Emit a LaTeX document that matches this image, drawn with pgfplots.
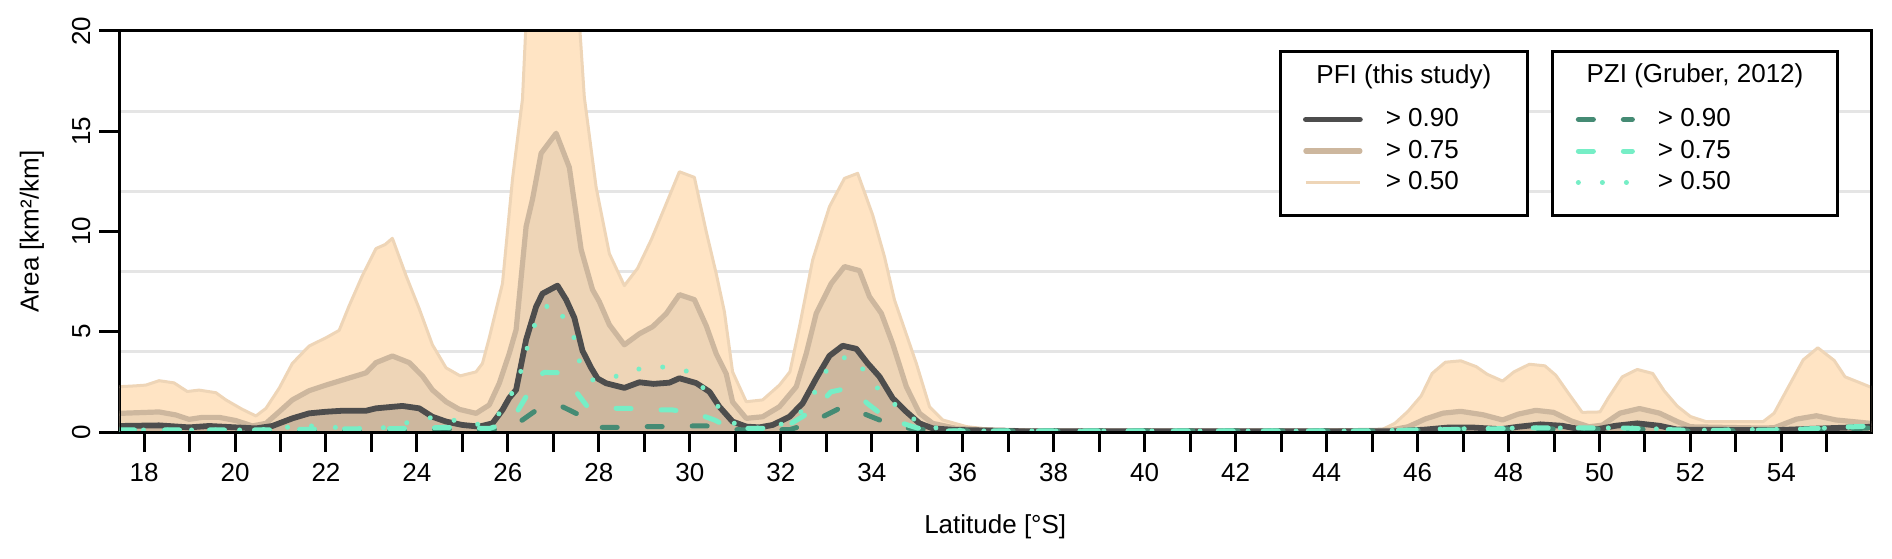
\documentclass[border=0pt]{standalone}
\usepackage{fontspec}
\setmainfont{Liberation Sans}
\usepackage{pgfplots}
\usepackage{pgfplotstable}
\pgfplotsset{compat=1.18}
\definecolor{bisqueA}{HTML}{FFE4C4}
\definecolor{bisqueB}{HTML}{EED5B7}
\definecolor{bisqueC}{HTML}{CDB79E}
\definecolor{grayL}{HTML}{4D4D4D}
\definecolor{aquaB}{HTML}{76EEC6}
\definecolor{aquaD}{HTML}{458B74}
\definecolor{gridgray}{HTML}{E5E5E5}

\pgfplotstableread{
x y
17.46 2.26
17.8 2.3
18.04 2.34
18.33 2.56
18.66 2.45
18.95 2.02
19.21 2.09
19.58 1.96
19.8 1.6
20.16 1.13
20.46 0.8
20.68 1.18
20.97 2.18
21.26 3.42
21.63 4.29
22.0 4.7
22.29 5.07
22.51 6.3
22.8 7.8
23.1 9.15
23.3 9.35
23.46 9.66
23.68 8.3
23.76 7.8
24.05 6.15
24.34 4.35
24.64 3.2
24.95 2.8
25.3 3.0
25.44 3.42
25.59 4.7
25.88 7.4
26.1 12.6
26.32 16.6
26.4 20.5
26.6 23
27.0 24
27.45 23
27.57 20.5
27.68 16.7
27.94 12.2
28.23 8.9
28.56 7.3
28.85 8.16
29.15 9.58
29.44 11.16
29.77 12.98
30.1 12.7
30.36 10.0
30.58 7.9
30.76 6.0
30.94 3.0
31.24 1.51
31.6 1.6
31.97 2.34
32.2 3.0
32.41 5.25
32.7 8.58
33.07 11.24
33.4 12.65
33.69 12.9
34.02 10.82
34.28 8.74
34.5 6.58
34.68 5.4
34.98 3.42
35.27 1.26
35.56 0.6
36.08 0.27
36.6 0.13
37.5 0.08
43.5 0.06
44.0 0.1
45.2 0.1
45.5 0.43
45.79 1.03
46.08 1.8
46.32 2.92
46.61 3.48
46.95 3.55
47.29 3.26
47.53 2.88
47.87 2.54
48.12 3.0
48.46 3.38
48.8 3.3
49.04 2.83
49.33 1.89
49.62 0.98
50.01 1.0
50.2 1.72
50.5 2.75
50.83 3.12
51.17 2.92
51.42 2.06
51.71 1.29
52.0 0.77
52.34 0.52
53.6 0.52
53.84 0.94
54.13 2.15
54.48 3.6
54.8 4.2
55.16 3.57
55.4 2.75
55.69 2.49
55.97 2.23
}\pfiA

\pgfplotstableread{
x y
17.46 0.93
18.33 1.0
18.7 0.85
18.99 0.63
19.28 0.73
19.65 0.73
20.02 0.57
20.38 0.3
20.68 0.43
20.97 1.01
21.26 1.6
21.63 2.06
22.0 2.34
22.36 2.59
22.88 2.95
23.1 3.46
23.46 3.79
23.83 3.46
24.12 2.8
24.34 2.1
24.64 1.51
24.93 1.13
25.3 0.93
25.59 1.35
25.81 2.43
26.03 3.92
26.18 5.1
26.4 10.25
26.54 11.6
26.73 13.9
27.06 14.9
27.35 13.2
27.61 9.1
27.86 7.1
28.01 6.5
28.23 5.35
28.56 4.35
28.89 4.9
29.18 5.25
29.48 5.9
29.77 6.85
30.1 6.6
30.36 5.3
30.58 3.9
30.8 2.9
30.94 1.5
31.24 0.68
31.6 0.76
31.97 1.26
32.34 2.26
32.56 3.92
32.78 5.92
33.11 7.41
33.4 8.25
33.73 8.05
33.95 6.75
34.21 5.92
34.46 4.4
34.76 2.26
35.05 0.93
35.34 0.43
35.86 0.18
36.6 0.1
37.5 0.05
44.0 0.05
45.4 0.09
45.79 0.26
46.17 0.65
46.56 0.94
46.95 1.03
47.44 0.86
47.87 0.6
48.21 0.89
48.6 1.08
48.99 0.98
49.38 0.55
49.77 0.26
50.06 0.34
50.45 0.94
50.88 1.17
51.32 0.94
51.71 0.52
52.0 0.26
53.5 0.2
53.84 0.21
54.33 0.64
54.77 0.81
55.2 0.6
55.97 0.43
}\pfiB

\pgfplotstableread{
x y
17.46 0.3
18.33 0.33
18.99 0.23
19.43 0.3
20.02 0.23
20.46 0.18
20.82 0.3
21.26 0.68
21.63 0.93
22.0 1.01
22.36 1.06
22.88 1.06
23.1 1.18
23.68 1.3
24.05 1.18
24.34 0.76
24.64 0.52
25.0 0.35
25.37 0.27
25.66 0.43
25.88 1.1
26.03 1.7
26.18 2.1
26.4 4.6
26.62 6.25
26.76 6.9
27.09 7.3
27.28 6.6
27.46 5.7
27.64 4.05
27.83 3.2
27.97 2.67
28.16 2.43
28.56 2.2
28.89 2.48
29.2 2.4
29.55 2.46
29.77 2.68
30.14 2.44
30.43 2.01
30.65 1.26
30.94 0.52
31.24 0.27
31.53 0.23
31.82 0.35
32.19 0.76
32.48 1.43
32.78 2.68
33.07 3.8
33.36 4.3
33.66 4.15
33.91 3.42
34.17 2.76
34.46 1.68
34.76 1.01
35.05 0.43
35.34 0.18
35.86 0.1
36.6 0.07
37.5 0.03
45.5 0.03
46.17 0.12
46.66 0.22
47.24 0.22
47.83 0.14
48.21 0.26
48.7 0.38
49.18 0.31
49.57 0.14
49.96 0.14
50.35 0.31
50.83 0.43
51.32 0.31
51.71 0.12
53.84 0.09
54.8 0.17
55.97 0.26
}\pfiC

\pgfplotstableread{
x y
17.46 0.1
20.0 0.08
24.0 0.1
24.6 0.15
25.5 0.1
26.0 0.15
26.32 0.6
26.65 1.13
26.9 1.3
27.2 1.26
27.57 0.85
27.8 0.4
28.05 0.23
28.45 0.23
29.04 0.27
29.44 0.27
30.03 0.3
30.47 0.3
30.8 0.15
31.2 0.1
32.2 0.12
32.6 0.4
32.92 0.76
33.29 1.18
33.5 1.25
33.84 0.9
34.17 0.6
34.5 0.3
35.0 0.13
36.0 0.05
45.0 0.05
46.5 0.12
48.5 0.15
50.8 0.15
52.0 0.05
54.5 0.1
55.97 0.2
}\pziC

\pgfplotstableread{
x y
17.46 0.1
20.5 0.1
22.0 0.15
24.0 0.18
24.6 0.23
25.0 0.2
25.6 0.18
25.9 0.4
26.2 1.0
26.4 1.76
26.6 2.7
26.8 2.97
27.13 2.96
27.3 2.6
27.5 2.0
27.75 1.26
28.2 1.18
28.63 1.18
29.18 1.1
29.62 1.1
30.17 0.9
30.54 0.6
30.8 0.3
31.0 0.18
31.6 0.18
32.1 0.25
32.5 0.8
32.85 1.35
33.1 2.0
33.4 2.15
33.62 2.0
33.9 1.43
34.35 0.63
34.68 0.43
35.0 0.2
35.5 0.05
45.0 0.05
46.0 0.1
47.5 0.15
48.5 0.2
50.5 0.2
52.0 0.08
54.0 0.1
55.0 0.2
55.97 0.3
}\pziB

\pgfplotstableread{
x y
17.46 0.1
20.5 0.1
20.93 0.18
21.41 0.3
21.92 0.3
22.4 0.18
22.91 0.17
23.39 0.23
23.87 0.52
24.34 0.73
24.86 0.57
25.33 0.38
25.77 0.8
26.03 1.68
26.25 2.68
26.36 3.79
26.53 4.84
26.65 5.9
26.97 6.46
27.24 5.66
27.46 4.67
27.57 3.55
27.83 2.6
28.16 2.58
28.62 3.0
29.07 3.24
29.56 3.24
29.99 3.0
30.3 2.18
30.61 1.3
30.91 0.48
31.38 0.18
31.86 0.27
32.3 0.63
32.62 1.46
32.85 2.43
33.09 3.42
33.5 3.8
33.84 3.06
34.13 2.18
34.48 1.43
34.85 0.73
35.31 0.23
35.86 0.1
36.5 0.05
45.0 0.05
46.5 0.15
48.5 0.2
50.8 0.2
52.0 0.08
54.5 0.15
55.97 0.3
}\pziA

\pgfplotsset{
  mylegend/.style={
    legend style={draw=none, fill=none, inner sep=0pt, outer sep=0pt,
      row sep=3.75bp,
      nodes={inner sep=0pt, text height=9.5bp, text depth=2.5bp},
      /tikz/every odd column/.append style={column sep=11.5bp}},
    legend cell align=left,
    legend image code/.code={\draw[##1] (0bp,0bp) -- (27bp,0bp);},
  },
  common/.style={
    at={(0,0)}, anchor=south west,
    scale only axis, width=875.75bp, height=200.5bp,
    xmin=17.46, xmax=55.97, ymin=0, ymax=20,
  },
}

\begin{document}
\fontsize{13bp}{15.6bp}\selectfont
\begin{tikzpicture}
\path[use as bounding box] (-59.75bp,-63.5bp) rectangle (886.25bp,216bp);
\begin{axis}[common, mylegend,
  xtick={18,20,...,54}, minor xtick={19,21,...,55},
  ytick={0,5,10,15,20},
  xtick pos=left, ytick pos=left,
  tick align=outside,
  major tick length=10bp, minor tick length=10bp,
  tick style={black, line width=1.5bp},
  minor tick style={black, line width=1.5bp},
  axis line style={line width=1.5bp},
  extra y ticks={4,8,12,16}, extra y tick labels={},
  extra y tick style={grid=major, major tick length=0pt, tick style={draw=none}},
  major grid style={gridgray, line width=1.5bp},
  /pgf/number format/assume math mode=true,
  yticklabel style={rotate=90, anchor=south},
  xticklabel style={yshift=-1.2bp},
  xlabel={Latitude [°S]}, ylabel={Area [km²/km]},
  every axis x label/.style={at={(axis description cs:0.5,0)}, anchor=center, yshift=-47.5bp},
  every axis y label/.style={at={(axis description cs:-0.04996,0.5)}, anchor=center, rotate=90},
  reverse legend,
  legend style={at={(axis description cs:0.6757,0.7007)}, anchor=west},
]
\addplot[draw=none, fill=bisqueA, forget plot] table {\pfiA} \closedcycle;
\addplot[bisqueB, line width=1.5bp, line join=round] table {\pfiA};
\addlegendentry{> 0.50}
\addplot[draw=none, fill=bisqueB, forget plot] table {\pfiB} \closedcycle;
\addplot[bisqueC, line width=2.6bp, line join=round, line cap=round] table {\pfiB};
\addlegendentry{> 0.75}
\addplot[draw=none, fill=bisqueC, forget plot] table {\pfiC} \closedcycle;
\addplot[grayL, line width=2.9bp, line join=round, line cap=round] table {\pfiC};
\addlegendentry{> 0.90}
\draw[line width=1.5bp, fill=white] (axis description cs:0.6626,0.5411) rectangle (axis description cs:0.8041,0.9501);
\draw[line width=1.5bp, fill=white] (axis description cs:0.8184,0.5411) rectangle (axis description cs:0.9806,0.9501);
\node at (axis description cs:0.7333,0.885) {PFI (this study)};
\node at (axis description cs:0.8995,0.888) {PZI (Gruber, 2012)};
\end{axis}
\begin{axis}[common, mylegend, hide axis,
  legend style={at={(axis description cs:0.8315,0.7007)}, anchor=west},
]
\addplot[aquaD, line width=2.5bp, dash pattern=on 7.5bp off 15bp, line cap=round, line join=round] table {\pziC};
\addlegendentry{> 0.90}
\addplot[aquaB, line width=2.5bp, dash pattern=on 7.5bp off 15bp, line cap=round, line join=round] table {\pziB};
\addlegendentry{> 0.75}
\addplot[aquaB, line width=2.5bp, dash pattern=on 0.01bp off 12bp, line cap=round, line join=round] table {\pziA};
\addlegendentry{> 0.50}
\draw[line width=1.5bp] (rel axis cs:0,0) rectangle (rel axis cs:1,1);
\end{axis}
\end{tikzpicture}
\end{document}
